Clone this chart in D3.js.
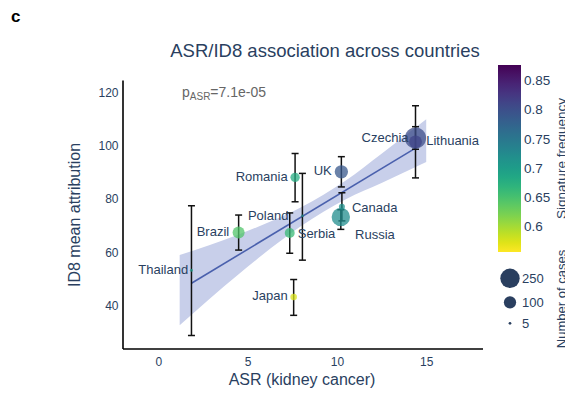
<!DOCTYPE html>
<html>
<head>
<meta charset="utf-8">
<script src="https://cdn.jsdelivr.net/npm/d3@7"></script>
<style>
  body { margin: 0; background: #fff; }
  svg { display: block; font-family: "Liberation Sans", Arial, sans-serif; }
</style>
</head>
<body>
<div id="chart"></div>
<script>
// Data
const countries = ["Czechia", "Lithuania", "UK", "Romania", "Poland", "Serbia", "Brazil", "Canada", "Russia", "Thailand", "Japan"];
const asr     = [14.4, 14.4, 10.25, 7.66, 8.07, 7.36, 4.50, 10.28, 10.22, 1.86, 7.58];
const id8     = [103.0, 101.6, 90.3, 88.2, 73.7, 67.2, 67.4, 77.1, 73.3, 53.2, 43.1];
const errLo   = [98.8, 88.0, 84.6, 79.0, 57.0, 59.6, 60.8, 71.8, 68.6, 28.6, 36.2];
const errHi   = [107.3, 115.2, 96.0, 97.2, 89.7, 74.8, 74.0, 82.4, 76.0, 77.5, 49.7];
const sigFreq = [0.80, 0.81, 0.79, 0.68, 0.72, 0.66, 0.645, 0.715, 0.72, 0.70, 0.575];
const nCases  = [300, 110, 118, 58, 5, 66, 96, 24, 225, 6, 29];

// regression fit and confidence band
const fitX = [1.86, 14.4];
const fitY = [48.3, 99.2];
const bandX  = [1.2, 4.5, 8.0, 10.5, 12.5, 15.0];
const bandLo = [32.5, 51.7, 69.9, 80.0, 86.1, 94.0];
const bandHi = [58.9, 66.7, 76.9, 87.0, 97.1, 110.1];

const xTicks = [0, 5, 10, 15];
const yTicks = [40, 60, 80, 100, 120];
const colorTicks = [0.6, 0.65, 0.7, 0.75, 0.8, 0.85];
const sizeTicks = [250, 100, 5];

// label placement (pixel offsets from the point)
const labelPos = {
  Czechia:  { dx: -7,   dy: 3.8,  anchor: "end" },
  Lithuania:{ dx: 10.7, dy: 3.4,  anchor: "start" },
  UK:       { dx: -9.6, dy: 2.8,  anchor: "end" },
  Romania:  { dx: -7.4, dy: 3.9,  anchor: "end" },
  Poland:   { dx: -14,  dy: 4.5,  anchor: "end" },
  Serbia:   { dx: 8,    dy: 4.6,  anchor: "start" },
  Brazil:   { dx: -9.4, dy: 3.8,  anchor: "end" },
  Canada:   { dx: 10,   dy: 5.1,  anchor: "start" },
  Russia:   { dx: 14.3, dy: 21.7, anchor: "start" },
  Thailand: { dx: -3.3, dy: 3.8,  anchor: "end" },
  Japan:    { dx: -6,   dy: 3.4,  anchor: "end" }
};

const W = 565, H = 400;
const textCol = "#2a3f5f";

const svg = d3.select("#chart").append("svg")
  .attr("width", W).attr("height", H);
svg.append("rect").attr("width", W).attr("height", H).attr("fill", "#fff");

const x = d3.scaleLinear().domain([-2.0, 18.15]).range([122.5, 482.5]);
const y = d3.scaleLinear().domain([23.7, 124.9]).range([348.5, 80]);
const r = d3.scaleSqrt().domain([0, 250]).range([0, 9.7]);
const cMin = 0.557, cMax = 0.876;
const color = d3.scaleSequential(d3.interpolateViridis).domain([cMax, cMin]);

// panel letter
svg.append("text").attr("x", 11).attr("y", 22)
  .attr("font-size", 17).attr("font-weight", "bold").attr("fill", "#000").text("c");

// title
svg.append("text").attr("x", 325).attr("y", 57).attr("text-anchor", "middle")
  .attr("font-size", 18.5).attr("fill", textCol)
  .text("ASR/ID8 association across countries");

// confidence band
const bandData = bandX.map((d, i) => ({ x: d, lo: bandLo[i], hi: bandHi[i] }));
svg.append("path")
  .datum(bandData)
  .attr("fill", "#c8cfea")
  .attr("d", d3.area().x(d => x(d.x)).y0(d => y(d.lo)).y1(d => y(d.hi)).curve(d3.curveMonotoneX));

// fit line
svg.append("line")
  .attr("x1", x(fitX[0])).attr("y1", y(fitY[0]))
  .attr("x2", x(fitX[1])).attr("y2", y(fitY[1]))
  .attr("stroke", "#4a60ad").attr("stroke-width", 1.6);

// axes
const xAxis = svg.append("g").attr("transform", "translate(0,348.5)")
  .call(d3.axisBottom(x).tickValues(xTicks).tickSize(0).tickSizeOuter(0).tickPadding(9));
const yAxis = svg.append("g").attr("transform", "translate(122.5,0)")
  .call(d3.axisLeft(y).tickValues(yTicks).tickSize(0).tickSizeOuter(0).tickPadding(4));
[xAxis, yAxis].forEach(a => {
  a.select(".domain").attr("stroke", "#000").attr("stroke-width", 1.6);
  a.selectAll("text").attr("font-size", 12).attr("fill", textCol)
    .attr("font-family", "'Liberation Sans', Arial, sans-serif");
});

svg.append("text").attr("x", 302).attr("y", 385).attr("text-anchor", "middle")
  .attr("font-size", 16).attr("fill", textCol).text("ASR (kidney cancer)");
svg.append("text").attr("transform", "translate(80,215) rotate(-90)")
  .attr("text-anchor", "middle").attr("font-size", 16).attr("fill", textCol)
  .text("ID8 mean attribution");

// p-value annotation
const pt = svg.append("text").attr("x", 182).attr("y", 97).attr("fill", "#666").attr("font-size", 14);
pt.append("tspan").text("p");
pt.append("tspan").attr("font-size", 10).attr("dy", 2.5).text("ASR");
pt.append("tspan").attr("dy", -2.5).text("=7.1e-05");

// data rows
const rows = countries.map((c, i) => ({
  name: c, x: asr[i], y: id8[i], lo: errLo[i], hi: errHi[i], f: sigFreq[i], n: nCases[i]
}));

// error bars
const eb = svg.append("g").attr("stroke", "#111").attr("stroke-width", 1.5);
rows.forEach(d => {
  const cx = x(d.x);
  eb.append("line").attr("x1", cx).attr("x2", cx).attr("y1", y(d.lo)).attr("y2", y(d.hi));
  eb.append("line").attr("x1", cx - 3.5).attr("x2", cx + 3.5).attr("y1", y(d.lo)).attr("y2", y(d.lo));
  eb.append("line").attr("x1", cx - 3.5).attr("x2", cx + 3.5).attr("y1", y(d.hi)).attr("y2", y(d.hi));
});

// markers
svg.append("g").selectAll("circle")
  .data(rows.slice().sort((a, b) => b.n - a.n))
  .enter().append("circle")
  .attr("cx", d => x(d.x)).attr("cy", d => y(d.y))
  .attr("r", d => r(d.n))
  .attr("fill", d => color(d.f))
  .attr("fill-opacity", 0.75);

// point labels
svg.append("g").selectAll("text")
  .data(rows)
  .enter().append("text")
  .attr("x", d => x(d.x) + labelPos[d.name].dx)
  .attr("y", d => y(d.y) + labelPos[d.name].dy)
  .attr("text-anchor", d => labelPos[d.name].anchor)
  .attr("font-size", 13).attr("fill", textCol)
  .text(d => d.name);

// colorbar
const cbX = 498, cbW = 23;
const cy = d3.scaleLinear().domain([cMin, cMax]).range([252, 65]);
const grad = svg.append("defs").append("linearGradient")
  .attr("id", "cbGrad").attr("x1", 0).attr("y1", 0).attr("x2", 0).attr("y2", 1);
d3.range(0, 1.0001, 0.05).forEach(t => {
  grad.append("stop").attr("offset", t).attr("stop-color", d3.interpolateViridis(t));
});
svg.append("rect").attr("x", cbX).attr("y", cy(cMax)).attr("width", cbW)
  .attr("height", cy(cMin) - cy(cMax)).attr("fill", "url(#cbGrad)");
svg.append("g").selectAll("text").data(colorTicks).enter().append("text")
  .attr("x", cbX + cbW + 3).attr("y", d => cy(d) + 4.7)
  .attr("font-size", 13.5).attr("fill", textCol)
  .text(d => d);
svg.append("text").attr("transform", "translate(566," + (cy(cMin) + cy(cMax)) / 2 + ") rotate(-90)")
  .attr("text-anchor", "middle").attr("font-size", 13.5).attr("fill", textCol)
  .text("Signature frequency");

// size legend
const sizeY = [278.3, 302.3, 323.3];
const sl = svg.append("g");
sizeTicks.forEach((n, i) => {
  sl.append("circle").attr("cx", 510).attr("cy", sizeY[i]).attr("r", r(n)).attr("fill", textCol);
  sl.append("text").attr("x", 522).attr("y", sizeY[i] + 4.6)
    .attr("font-size", 13).attr("fill", textCol).text(n);
});
svg.append("text").attr("transform", "translate(566,299) rotate(-90)")
  .attr("text-anchor", "middle").attr("font-size", 13).attr("fill", textCol)
  .text("Number of cases");
</script>
</body>
</html>
